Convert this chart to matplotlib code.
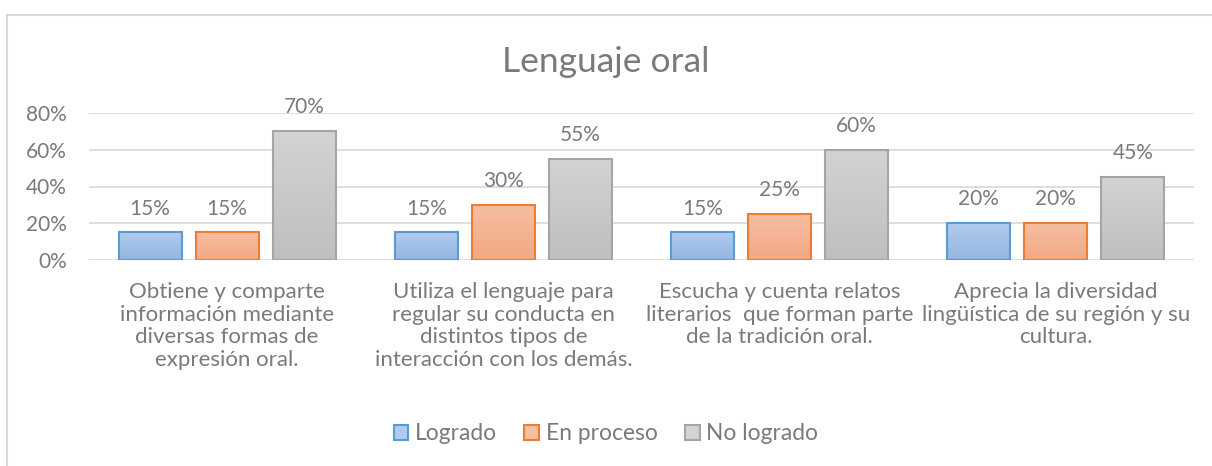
import numpy as np
import matplotlib
matplotlib.use('Agg')
import matplotlib.pyplot as plt
from matplotlib.colors import LinearSegmentedColormap
from matplotlib.patches import Rectangle

plt.rcParams['font.family'] = ['Lato', 'DejaVu Sans']

categories = [
    'Obtiene y comparte\ninformación mediante\ndiversas formas de\nexpresión oral.',
    'Utiliza el lenguaje para\nregular su conducta en\ndistintos tipos de\ninteracción con los demás.',
    'Escucha y cuenta relatos\nliterarios  que forman parte\nde la tradición oral.',
    'Aprecia la diversidad\nlingüística de su región y su\ncultura.',
]
series_names = ['Logrado', 'En proceso', 'No logrado']
logrado = [0.15, 0.15, 0.15, 0.20]
en_proceso = [0.15, 0.30, 0.25, 0.20]
no_logrado = [0.70, 0.55, 0.60, 0.45]

# (top colour, bottom colour, edge colour)
STYLES = [
    ('#b0cbed', '#94b6e3', '#5b9bd5'),
    ('#f6bea2', '#f2a883', '#ed7d31'),
    ('#d3d3d3', '#bfbfbf', '#a5a5a5'),
]
TEXT = '#7a7a7a'
GRID = '#d9d9d9'

fig = plt.figure(figsize=(12.12, 4.66), dpi=100)
fig.patches.append(Rectangle((7 / 1212, -0.1), 1.2, 1 - 15 / 466 + 0.1,
                             transform=fig.transFigure, fill=False,
                             edgecolor=GRID, linewidth=1.5))
ax = fig.add_axes([89 / 1212, 1 - 260 / 466, (1194 - 89) / 1212, (260 - 113) / 466])

x = np.arange(len(categories))
width = 0.228
step = 0.279
grad = np.linspace(0, 1, 100).reshape(-1, 1)

for i, (vals, name) in enumerate(zip([logrado, en_proceso, no_logrado], series_names)):
    top, bottom, edge = STYLES[i]
    cmap = LinearSegmentedColormap.from_list(name, [bottom, top])
    pos = x + (i - 1) * step
    bars = ax.bar(pos, vals, width, color=top, edgecolor=edge, linewidth=1.5,
                  label=name, zorder=3)
    for b in bars:
        im = ax.imshow(grad, cmap=cmap, aspect='auto', origin='lower',
                       extent=[b.get_x(), b.get_x() + b.get_width(), 0, b.get_height()],
                       zorder=3.5)
        im.set_clip_path(b)
        b.set_facecolor('none')
        b.set_zorder(4)
    for p, v in zip(pos, vals):
        ax.annotate(f'{v:.0%}', (p, v), xytext=(0, 10), textcoords='offset points',
                    ha='center', va='bottom', fontsize=15, color=TEXT)

ax.set_xlim(-0.5, len(categories) - 0.5)
ax.set_ylim(0, 0.8)
ax.set_yticks([0, 0.2, 0.4, 0.6, 0.8])
ax.set_yticklabels(['0%', '20%', '40%', '60%', '80%'])
ax.set_xticks(x)
ax.set_xticklabels(categories, linespacing=1.16, fontsize=16)
ax.tick_params(axis='both', length=0, labelcolor=TEXT)
ax.tick_params(axis='y', pad=16, labelsize=15)
ax.tick_params(axis='x', pad=16)
ax.yaxis.grid(True, color=GRID, linewidth=1.2, zorder=0)
ax.set_axisbelow(True)
for s in ax.spines.values():
    s.set_visible(False)

fig.text(0.5, 1 - 62 / 466, 'Lenguaje oral', ha='center', va='center',
         fontsize=25.5, color=TEXT)

handles = [Rectangle((0, 0), 1, 1, facecolor=STYLES[i][0], edgecolor=STYLES[i][2],
                     linewidth=1.5) for i in range(3)]
fig.legend(handles, series_names, loc='center', bbox_to_anchor=(0.5, 1 - 434 / 466),
           ncol=3, frameon=False, fontsize=16.4, labelcolor=TEXT,
           handlelength=0.64, handleheight=0.64, handletextpad=0.3, columnspacing=1.2)

fig.savefig('out.png', dpi=100)
